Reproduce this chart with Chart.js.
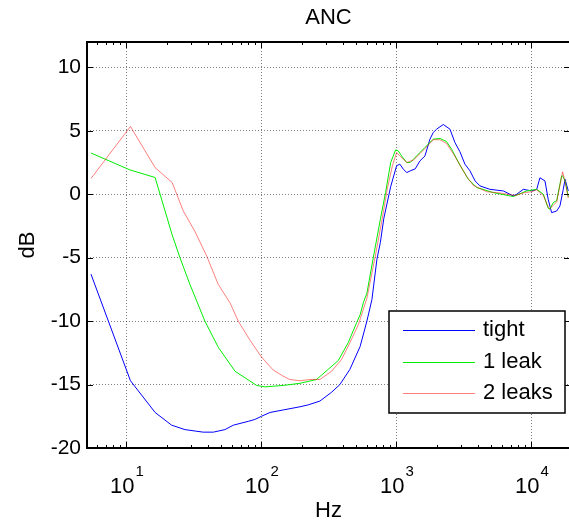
<!DOCTYPE html>
<html><head><meta charset="utf-8">
<script src="https://cdn.jsdelivr.net/npm/chart.js@4/dist/chart.umd.min.js"></script>
<style>html,body{margin:0;padding:0;background:#fff;overflow:hidden}#wrap{width:569px;height:522px;overflow:hidden;position:relative;background:#fff}canvas{display:block}</style>
</head><body><div id="wrap"><canvas id="c" width="580" height="522"></canvas></div>
<script>
const chartTitle = 'ANC';
const xTitle = 'Hz';
const yTitle = 'dB';
const seriesNames = ['tight', '1 leak', '2 leaks'];
const xMajorTicks = [10, 100, 1000, 10000];
const xTickBase = ['10', '10', '10', '10'];
const xTickExp = ['1', '2', '3', '4'];
const yTicks = [-20, -15, -10, -5, 0, 5, 10];

const tightHz = [5.46,10.7,16.3,21.6,27.1,37,44,53.6,61.9,79.8,89.3,100,115.6,145,193,222,271,331,381,452,538,604,658,717,760,806,906,1003,1060,1124,1193,1264,1376,1493,1626,1770,1874,1985,2223,2490,2711,2952,3216,3506,3823,4154,4920,6190,7320,7776,8700,10035,10940,11560,12590,13300,14100,15380,16260,17210,17750,18750];
const tightDb = [-6.3,-14.7,-17.2,-18.2,-18.55,-18.75,-18.75,-18.55,-18.2,-17.9,-17.75,-17.5,-17.2,-17.0,-16.75,-16.6,-16.3,-15.6,-15.0,-13.8,-12.0,-10.0,-8.3,-5.1,-3.8,-1.9,0.6,2.25,2.37,1.97,1.71,1.84,2.0,2.63,3.02,4.34,4.87,5.13,5.5,5.13,4.08,3.35,2.37,1.84,1.05,0.66,0.39,0.26,-0.13,0.0,0.39,0.26,0.39,1.3,1.05,-0.39,-1.45,-1.32,-0.92,0.39,1.18,0.26];

const leak1Hz = [5.46,10.6,16.3,21.8,24.9,29.5,38.1,47.8,63.7,92.2,106,145,193,256,312,371,439,508,538,570,604,677,760,830,906,986,1030,1092,1193,1264,1337,1493,1626,1874,2100,2350,2560,2952,3407,3935,5214,7320,9220,10940,12250,13300,13680,14500,15380,16720,17010,17750,18750];
const leak1Db = [3.25,1.92,1.32,-3.2,-5.0,-7.1,-10.0,-12.05,-13.95,-15.07,-15.18,-15.07,-14.9,-14.6,-13.8,-13.1,-11.7,-10.1,-9.5,-8.5,-7.8,-4.87,-1.97,0.13,2.5,3.5,3.42,3.02,2.5,2.5,2.76,3.29,3.69,4.34,4.4,4.15,3.55,2.3,1.18,0.53,0.13,-0.18,0.26,0.39,0.0,-1.1,-1.18,-0.66,-0.5,1.45,1.45,1.05,-0.2];

const leak2Hz = [5.46,10.7,16.3,21.8,26.3,32.2,39.3,47.8,58.4,67.3,82.2,100.4,122,145,162,193,229,271,331,393,452,523,587,604,697,783,854,932,1003,1060,1193,1337,1493,1626,1874,2100,2350,2636,2952,3311,3706,4656,5847,7553,8700,10035,10940,12250,13300,13680,15380,17010,17750,18750];
const leak2Db = [1.24,5.34,2.1,0.92,-1.3,-2.95,-4.87,-7.1,-8.55,-10.0,-11.5,-12.85,-13.85,-14.34,-14.6,-14.7,-14.6,-14.6,-13.95,-13.0,-11.7,-10.26,-8.6,-8.2,-4.87,-1.97,0.39,2.23,3.29,3.02,2.5,2.7,3.2,3.6,4.3,4.3,4.0,3.2,2.3,1.4,0.7,0.2,0.1,-0.1,0.1,0.2,0.35,-0.1,-1.0,-1.15,-0.6,1.76,1.0,-0.3];

const FONT = '"Liberation Sans", Arial, Helvetica, sans-serif';
const seriesColors = ['#0000ff', '#00ee00', 'rgba(255,0,0,0.5)'];

function pts(xs, ys) { return xs.map((v, i) => ({ x: v, y: ys[i] })); }

const decor = {
  id: 'decor',
  afterDatasetsDraw(chart) {
    const { ctx, chartArea: a, scales: { x, y } } = chart;
    ctx.save();
    ctx.strokeStyle = '#000';
    ctx.lineWidth = 1;
    ctx.beginPath();
    for (let d = 1; d <= 10000; d *= 10) {
      for (let m = 1; m <= 9; m++) {
        const v = d * m;
        if (v < x.min || v > x.max) continue;
        const px = Math.round(x.getPixelForValue(v)) + 0.5;
        const len = m === 1 ? 6 : 3;
        ctx.moveTo(px, a.bottom); ctx.lineTo(px, a.bottom - len);
        ctx.moveTo(px, a.top); ctx.lineTo(px, a.top + len);
      }
    }
    yTicks.forEach(v => {
      const py = Math.round(y.getPixelForValue(v)) + 0.5;
      ctx.moveTo(a.left, py); ctx.lineTo(a.left + 6, py);
      ctx.moveTo(a.right, py); ctx.lineTo(a.right - 6, py);
    });
    ctx.stroke();
    ctx.lineWidth = 2;
    ctx.strokeRect(a.left, a.top, a.right - a.left, a.bottom - a.top);
    // x tick labels with exponents
    ctx.fillStyle = '#000';
    ctx.textBaseline = 'alphabetic';
    ctx.textAlign = 'left';
    xMajorTicks.forEach((v, i) => {
      const px = x.getPixelForValue(v);
      ctx.font = '22px ' + FONT;
      const w1 = ctx.measureText(xTickBase[i]).width;
      ctx.font = '15px ' + FONT;
      const w2 = ctx.measureText(xTickExp[i]).width;
      const start = px - (w1 + w2) / 2;
      ctx.font = '22px ' + FONT;
      ctx.fillText(xTickBase[i], start, a.bottom + 45);
      ctx.font = '15px ' + FONT;
      ctx.fillText(xTickExp[i], start + w1 + 1, a.bottom + 28);
    });
    // legend
    const bw = 176, bh = 102;
    const bx = a.right - 5 - bw, by = a.bottom - 35 - bh;
    ctx.fillStyle = '#fff';
    ctx.fillRect(bx, by, bw, bh);
    ctx.lineWidth = 1.5;
    ctx.strokeStyle = '#000';
    ctx.strokeRect(bx, by, bw, bh);
    ctx.font = '22px ' + FONT;
    ctx.textBaseline = 'middle';
    chart.data.datasets.forEach((ds, i) => {
      const cy = by + 19 + i * 31.5;
      ctx.strokeStyle = ds.borderColor;
      ctx.lineWidth = 1;
      ctx.beginPath();
      ctx.moveTo(bx + 14, Math.round(cy) + 0.5);
      ctx.lineTo(bx + 86, Math.round(cy) + 0.5);
      ctx.stroke();
      ctx.fillStyle = '#000';
      ctx.fillText(ds.label, bx + 94, cy);
    });
    ctx.restore();
  }
};

new Chart(document.getElementById('c'), {
  type: 'line',
  data: {
    datasets: [
      { label: seriesNames[0], data: pts(tightHz, tightDb), borderColor: seriesColors[0], borderWidth: 1, pointRadius: 0, order: 3 },
      { label: seriesNames[1], data: pts(leak1Hz, leak1Db), borderColor: seriesColors[1], borderWidth: 1, pointRadius: 0, order: 2 },
      { label: seriesNames[2], data: pts(leak2Hz, leak2Db), borderColor: seriesColors[2], borderWidth: 1, pointRadius: 0, order: 1 }
    ]
  },
  options: {
    responsive: false,
    devicePixelRatio: 1,
    animation: false,
    layout: { padding: { left: 0, right: 10, top: 0, bottom: 0 } },
    plugins: {
      legend: { display: false },
      tooltip: { enabled: false },
      title: { display: true, fullSize: false, text: chartTitle, color: '#000', font: { family: FONT, size: 22, weight: 'normal', lineHeight: 1 }, padding: { top: 7, bottom: 13 } }
    },
    scales: {
      x: {
        type: 'logarithmic', min: 5.1, max: 19300,
        afterBuildTicks: s => { s.ticks = xMajorTicks.map(v => ({ value: v, major: true })); },
        afterFit: s => { s.height = 74; },
        ticks: { display: false },
        grid: { color: 'rgba(0,0,0,0.5)', drawTicks: false, lineWidth: 1 },
        border: { display: false, dash: [1, 2] },
        title: { display: true, text: xTitle, color: '#000', font: { family: FONT, size: 22, lineHeight: 1 }, padding: { top: 0, bottom: 0 } }
      },
      y: {
        type: 'linear', min: -20, max: 12,
        afterBuildTicks: s => { s.ticks = yTicks.map(v => ({ value: v })); },
        afterFit: s => { s.width = 87; },
        ticks: { color: '#000', font: { family: FONT, size: 21 }, padding: 6 },
        grid: { color: 'rgba(0,0,0,0.5)', drawTicks: false, lineWidth: 1 },
        border: { display: false, dash: [1, 2] },
        title: { display: true, text: yTitle, color: '#000', font: { family: FONT, size: 22, lineHeight: 1 }, padding: { top: 17, bottom: 0 } }
      }
    }
  },
  plugins: [decor]
});
</script>
</body></html>
